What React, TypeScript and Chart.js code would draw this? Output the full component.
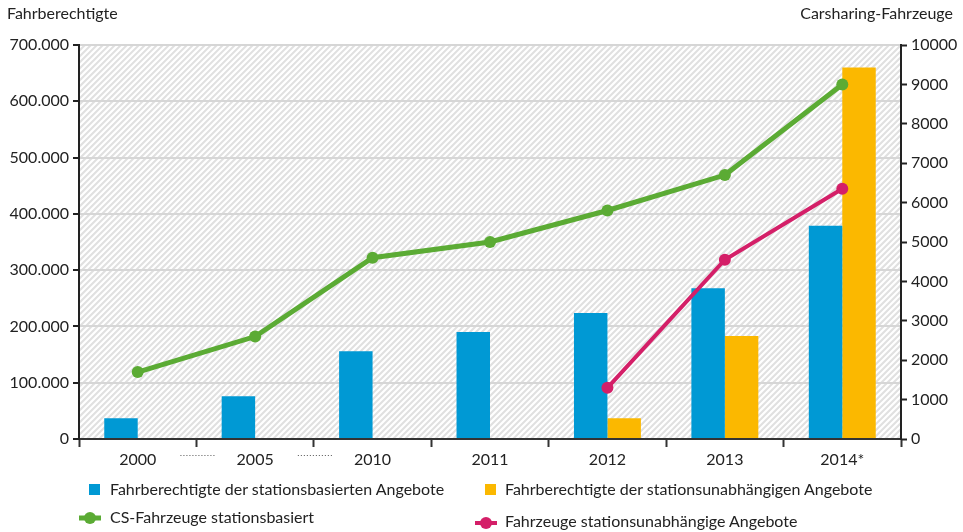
import React, { useEffect, useRef } from "react";
import { Chart, registerables } from "chart.js";

Chart.register(...registerables);

const categories = ["2000", "2005", "2010", "2011", "2012", "2013", "2014*"];
const fahrberechtigteStationsbasiert = [37000, 76000, 156000, 190000, 224000, 268000, 379000];
const fahrberechtigteStationsunabhaengig = [null, null, null, null, 37000, 183000, 660000];
const csFahrzeugeStationsbasiert = [1700, 2600, 4600, 5000, 5800, 6700, 9000];
const fahrzeugeStationsunabhaengig = [null, null, null, null, 1300, 4550, 6350];

const leftTitle = "Fahrberechtigte";
const rightTitle = "Carsharing-Fahrzeuge";
const legendLabels = [
  "Fahrberechtigte der stationsbasierten Angebote",
  "Fahrberechtigte der stationsunabhängigen Angebote",
  "CS-Fahrzeuge stationsbasiert",
  "Fahrzeuge stationsunabhängige Angebote",
];

const BLUE = "#0099d4";
const YELLOW = "#fbb800";
const GREEN = "#5bab34";
const RED = "#d41f68";
const FONT = "Lato, 'Noto Sans', sans-serif";

function fmtDE(v: number) {
  const s = String(Math.round(v));
  return s.replace(/\B(?=(\d{3})+(?!\d))/g, ".");
}

const hatchPlugin = {
  id: "hatch",
  beforeDraw(chart: any) {
    const { ctx, chartArea } = chart;
    const { left, top, right, bottom } = chartArea;
    ctx.save();
    ctx.beginPath();
    ctx.rect(left, top, right - left, bottom - top);
    ctx.clip();
    ctx.fillStyle = "#ffffff";
    ctx.fillRect(left, top, right - left, bottom - top);
    ctx.strokeStyle = "#e0e0e0";
    ctx.lineWidth = 2;
    const h = bottom - top;
    for (let x = left - h; x < right + h; x += 6) {
      ctx.beginPath();
      ctx.moveTo(x, bottom);
      ctx.lineTo(x + h, top);
      ctx.stroke();
    }
    ctx.restore();
  },
  afterDraw(chart: any) {
    const { ctx } = chart;
    const xs = chart.scales.x;
    const step = xs.getPixelForValue(1) - xs.getPixelForValue(0);
    ctx.save();
    ctx.strokeStyle = "#555";
    ctx.lineWidth = 1;
    ctx.setLineDash([1, 2]);
    for (let i = 0; i < 2; i++) {
      const mid = xs.getPixelForValue(i) + step / 2;
      ctx.beginPath();
      ctx.moveTo(mid - 16, xs.top + 16.5);
      ctx.lineTo(mid + 20, xs.top + 16.5);
      ctx.stroke();
    }
    ctx.restore();
  },
};

export default function App() {
  const ref = useRef<HTMLCanvasElement>(null);
  useEffect(() => {
    document.body.style.margin = "0";
    const chart = new Chart(ref.current!, {
      type: "bar",
      data: {
        labels: categories,
        datasets: [
          {
            type: "line",
            label: legendLabels[2],
            data: csFahrzeugeStationsbasiert,
            yAxisID: "y1",
            borderColor: GREEN,
            backgroundColor: GREEN,
            borderWidth: 5,
            pointRadius: 6,
            pointBackgroundColor: GREEN,
            pointBorderWidth: 0,
            order: 0,
          } as any,
          {
            type: "line",
            label: legendLabels[3],
            data: fahrzeugeStationsunabhaengig,
            yAxisID: "y1",
            borderColor: RED,
            backgroundColor: RED,
            borderWidth: 4,
            pointRadius: 6,
            pointBackgroundColor: RED,
            pointBorderWidth: 0,
            order: 0,
          } as any,
          {
            type: "bar",
            label: legendLabels[0],
            data: fahrberechtigteStationsbasiert,
            yAxisID: "y",
            backgroundColor: BLUE,
            categoryPercentage: 0.57,
            barPercentage: 1.0,
            order: 1,
          } as any,
          {
            type: "bar",
            label: legendLabels[1],
            data: fahrberechtigteStationsunabhaengig,
            yAxisID: "y",
            backgroundColor: YELLOW,
            categoryPercentage: 0.57,
            barPercentage: 1.0,
            order: 1,
          } as any,
        ],
      },
      options: {
        animation: false,
        responsive: false,
        layout: { padding: { top: 45, left: 0, right: 0, bottom: 0 } },
        plugins: { legend: { display: false }, tooltip: { enabled: false } },
        scales: {
          x: {
            offset: true,
            grid: { offset: true, drawOnChartArea: false, tickLength: 8, tickColor: "#333", tickWidth: 2 },
            border: { color: "#333", width: 2 },
            ticks: { color: "#222", font: { family: FONT, size: 16 }, padding: 3 },
            afterFit: (s: any) => { s.height = 93; },
          },
          y: {
            position: "left",
            min: 0,
            max: 700000,
            ticks: { stepSize: 100000, color: "#222", font: { family: FONT, size: 16 }, padding: 4, callback: (v: any) => fmtDE(Number(v)) },
            grid: { color: "#d6d6d6", lineWidth: 2, tickColor: "#222", tickLength: 6, tickWidth: 2 },
            border: { color: "#222", width: 2 },
            afterFit: (s: any) => { s.width = 79; },
          },
          y1: {
            position: "right",
            min: 0,
            max: 10000,
            ticks: { stepSize: 1000, color: "#222", font: { family: FONT, size: 16 }, padding: 4, callback: (v: any) => String(Math.round(Number(v))) },
            grid: { drawOnChartArea: false, tickColor: "#222", tickLength: 6, tickWidth: 2 },
            border: { color: "#222", width: 2 },
            afterFit: (s: any) => { s.width = 62; },
          },
        },
      },
      plugins: [hatchPlugin],
    });
    return () => chart.destroy();
  }, []);

  const textStyle: React.CSSProperties = { position: "absolute", fontFamily: FONT, fontSize: 16, color: "#222", whiteSpace: "nowrap" };

  return (
    <div style={{ position: "relative", width: 963, height: 532 }}>
      <canvas ref={ref} width={963} height={532} style={{ position: "absolute", left: 0, top: 0 }} />
      <div style={{ ...textStyle, left: 7, top: 3 }}>{leftTitle}</div>
      <div style={{ ...textStyle, right: 10, top: 3 }}>{rightTitle}</div>
      <div style={{ position: "absolute", left: 89, top: 484, width: 11, height: 11, background: BLUE }} />
      <div style={{ ...textStyle, left: 110, top: 479 }}>{legendLabels[0]}</div>
      <div style={{ position: "absolute", left: 485, top: 484, width: 11, height: 11, background: YELLOW }} />
      <div style={{ ...textStyle, left: 505, top: 479 }}>{legendLabels[1]}</div>
      <svg style={{ position: "absolute", left: 78, top: 511 }} width={24} height={14}>
        <line x1={1} y1={7} x2={23} y2={7} stroke={GREEN} strokeWidth={5} />
        <circle cx={12} cy={7} r={6} fill={GREEN} />
      </svg>
      <div style={{ ...textStyle, left: 110, top: 507 }}>{legendLabels[2]}</div>
      <svg style={{ position: "absolute", left: 474, top: 516 }} width={24} height={14}>
        <line x1={1} y1={7} x2={23} y2={7} stroke={RED} strokeWidth={4} />
        <circle cx={12} cy={7} r={6} fill={RED} />
      </svg>
      <div style={{ ...textStyle, left: 505, top: 511 }}>{legendLabels[3]}</div>
    </div>
  );
}
